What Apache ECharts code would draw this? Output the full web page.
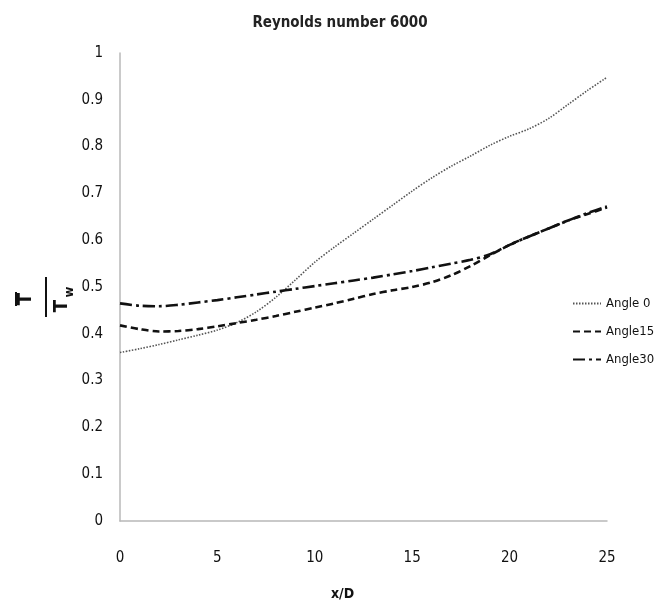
<!DOCTYPE html>
<html>
<head>
<meta charset="utf-8">
<script src="https://cdn.jsdelivr.net/npm/echarts@6/dist/echarts.min.js"></script>
<style>
html,body{margin:0;padding:0;background:#fff;}
#chart{width:658px;height:605px;}
</style>
</head>
<body>
<div id="chart"></div>
<script>
const xValues = [0,1,2,3,4,5,6,7,8,9,10,11,12,13,14,15,16,17,18,19,20,21,22,23,24,25];
const angle0  = [0.360,0.368,0.377,0.387,0.397,0.408,0.424,0.447,0.478,0.515,0.553,0.585,0.615,0.645,0.675,0.705,0.733,0.758,0.780,0.803,0.822,0.838,0.860,0.890,0.920,0.948];
const angle15 = [0.418,0.410,0.405,0.406,0.410,0.416,0.423,0.430,0.438,0.447,0.456,0.465,0.475,0.485,0.493,0.500,0.510,0.525,0.545,0.568,0.590,0.608,0.625,0.642,0.656,0.670];
const angle30 = [0.465,0.460,0.459,0.462,0.467,0.472,0.478,0.484,0.490,0.496,0.502,0.508,0.514,0.520,0.527,0.534,0.542,0.550,0.558,0.570,0.590,0.608,0.625,0.642,0.658,0.672];
const seriesNames = ['Angle 0','Angle15','Angle30'];
const titleText = 'Reynolds number 6000';
const xName = 'x/D';

const FONT = "'Liberation Sans Narrow','DejaVu Sans Condensed','Roboto Condensed','Liberation Sans',sans-serif";
function pairs(ys){ return xValues.map((x,i)=>[x, ys[i]]); }

const chart = echarts.init(document.getElementById('chart'), null, {renderer:'canvas'});
chart.setOption({
  animation:false,
  backgroundColor:'#fff',
  title:{text:titleText,left:335,top:11,textAlign:'center',
    textStyle:{fontFamily:FONT,fontWeight:'bold',fontSize:15,color:'#222'}},
  grid:{left:120,right:51,top:53,bottom:84},
  legend:{orient:'vertical',left:567,top:292,itemWidth:28,itemHeight:14,itemGap:15,
    data:seriesNames,
    itemStyle:{opacity:0,borderWidth:0},
    textStyle:{fontFamily:FONT,fontSize:13,color:'#111'}},
  xAxis:{type:'value',min:0,max:25,interval:5,
    axisLine:{lineStyle:{color:'#b8b8b8',width:1.5}},
    axisTick:{show:false},splitLine:{show:false},
    axisLabel:{margin:30,fontFamily:FONT,fontSize:15,color:'#111'}},
  yAxis:{type:'value',min:0,max:1,interval:0.1,
    axisLine:{show:true,lineStyle:{color:'#b8b8b8',width:1.5}},
    axisTick:{show:false},splitLine:{show:false},
    axisLabel:{margin:17,fontFamily:FONT,fontSize:15,color:'#111',
      formatter:v=>String(Math.round(v*10)/10)}},
  graphic:[
    {type:'text',left:331,top:587,style:{text:xName,fontFamily:FONT,fontWeight:'bold',fontSize:14,fill:'#111'}},
    {type:'group',x:46,y:297,rotation:Math.PI/2,children:[
      {type:'text',x:-2,y:-20,style:{text:'T',fontFamily:FONT,fontWeight:'bold',fontSize:20,fill:'#111',align:'center',verticalAlign:'middle'}},
      {type:'rect',shape:{x:-9,y:-31,width:14,height:2},style:{fill:'#111'}},
      {type:'rect',shape:{x:-20,y:-1,width:40,height:2},style:{fill:'#111'}},
      {type:'text',x:-9,y:16,style:{text:'T',fontFamily:FONT,fontWeight:'bold',fontSize:20,fill:'#111',align:'center',verticalAlign:'middle'}},
      {type:'text',x:5,y:24,style:{text:'w',fontFamily:FONT,fontWeight:'bold',fontSize:13,fill:'#111',align:'center',verticalAlign:'middle'}}
    ]}
  ],
  series:[
    {name:seriesNames[0],type:'line',data:pairs(angle0),smooth:0.3,symbol:'none',
      lineStyle:{color:'#555',width:1.6,type:[1.5,1.5]},itemStyle:{color:'#555'}},
    {name:seriesNames[1],type:'line',data:pairs(angle15),smooth:0.3,symbol:'none',
      lineStyle:{color:'#111',width:2.6,type:[7,4]},itemStyle:{color:'#111'}},
    {name:seriesNames[2],type:'line',data:pairs(angle30),smooth:0.3,symbol:'none',
      lineStyle:{color:'#111',width:2.6,type:[12,4,3,4]},itemStyle:{color:'#111'}}
  ]
});
</script>
</body>
</html>
